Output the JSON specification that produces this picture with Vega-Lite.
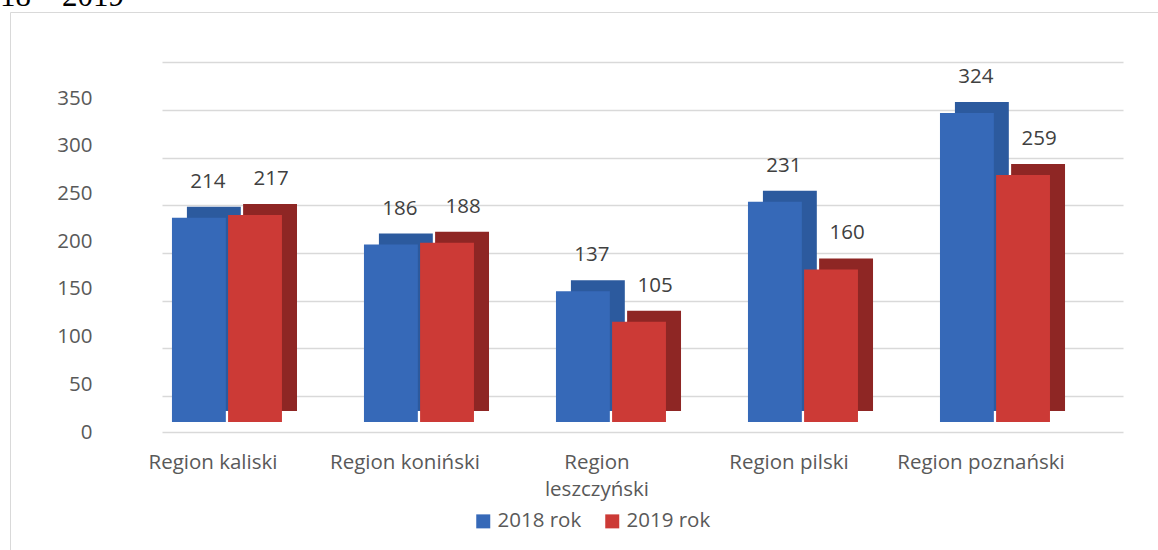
{
  "$schema": "https://vega.github.io/schema/vega-lite/v6.json",
  "autosize": {"type": "none"},
  "padding": {"left": 10, "top": 12, "right": 0, "bottom": 0},
  "width": 1150,
  "height": 545,
  "background": "white",
  "title": {"text": "18 – 2019", "anchor": "start", "frame": "group", "font": "Liberation Serif", "fontSize": 31, "fontWeight": "normal", "color": "#000000", "baseline": "alphabetic", "offset": -25, "dx": -10},
  "config": {"view": {"stroke": "#d9d9d9", "strokeWidth": 1}, "font": "Open Sans"},
  "data": {"values": [
    {"region": "Region kaliski", "year": "2018 rok", "value": 214},
    {"region": "Region kaliski", "year": "2019 rok", "value": 217},
    {"region": "Region koniński", "year": "2018 rok", "value": 186},
    {"region": "Region koniński", "year": "2019 rok", "value": 188},
    {"region": "Region leszczyński", "year": "2018 rok", "value": 137},
    {"region": "Region leszczyński", "year": "2019 rok", "value": 105},
    {"region": "Region pilski", "year": "2018 rok", "value": 231},
    {"region": "Region pilski", "year": "2019 rok", "value": 160},
    {"region": "Region poznański", "year": "2018 rok", "value": 324},
    {"region": "Region poznański", "year": "2019 rok", "value": 259}
  ]},
  "encoding": {
    "x": {"field": "region", "type": "nominal", "sort": null,
      "scale": {"range": [152, 1113], "paddingInner": 0.4271, "paddingOuter": 0.2161, "align": 0.12},
      "axis": {"title": null, "orient": "bottom", "offset": -125, "labelAngle": 0, "ticks": false, "tickSize": 0, "labelPadding": 20, "labelOffset": -14, "labelFont": "Open Sans", "labelFontSize": 20.5, "labelColor": "#595959", "domain": true, "domainColor": "#d9d9d9", "domainWidth": 1.3, "grid": false, "labelBaseline": "top", "labelLineHeight": 27, "labelLimit": 0,
        "labelExpr": "datum.value == 'Region leszczyński' ? ['Region', 'leszczyński'] : datum.value"}},
    "y": {"field": "value", "type": "quantitative",
      "scale": {"domain": [-141.5, 429.8], "nice": false},
      "axis": {"title": null, "orient": "left", "offset": -82, "ticks": false, "tickSize": 0, "labelPadding": 0, "domain": false, "grid": true, "gridColor": "#d9d9d9", "gridWidth": 1.3, "values": [0, 50, 100, 150, 200, 250, 300, 350], "tickOffset": -26, "labelOffset": 36, "labelFont": "Open Sans", "labelFontSize": 20.5, "labelColor": "#595959"}}
  },
  "layer": [
    {"transform": [{"filter": "datum.year == '2018 rok'"}],
     "mark": {"type": "bar", "color": "#2c5a9e", "width": 53.9, "xOffset": -13.1, "yOffset": -11, "y2Offset": -11}},
    {"transform": [{"filter": "datum.year == '2019 rok'"}],
     "mark": {"type": "bar", "color": "#8e2624", "width": 53.9, "xOffset": 43.1, "yOffset": -11, "y2Offset": -11}},
    {"mark": {"type": "bar"},
     "encoding": {
       "xOffset": {"field": "year", "type": "nominal", "scale": {"paddingInner": 0.04, "paddingOuter": 0}},
       "color": {"field": "year", "type": "nominal", "scale": {"range": ["#3669b8", "#cc3a36"]},
         "legend": {"title": null, "orient": "none", "legendX": 463, "legendY": 499, "direction": "horizontal", "symbolType": "square", "symbolSize": 196, "symbolStrokeWidth": 0, "symbolOpacity": 1, "labelFontSize": 20.5, "labelColor": "#595959", "labelFont": "Open Sans", "labelOffset": 4, "columnPadding": 20, "padding": 0}}}},
    {"transform": [{"filter": "datum.year == '2018 rok'"}],
     "mark": {"type": "text", "font": "Open Sans", "fontSize": 20.5, "color": "#404040", "baseline": "middle", "dy": -36, "dx": 9},
     "encoding": {
       "xOffset": {"field": "year", "type": "nominal", "scale": {"paddingInner": 0.04, "paddingOuter": 0}},
       "text": {"field": "value", "type": "quantitative"}}},
    {"transform": [{"filter": "datum.year == '2019 rok'"}],
     "mark": {"type": "text", "font": "Open Sans", "fontSize": 20.5, "color": "#404040", "baseline": "middle", "dy": -36, "dx": 16},
     "encoding": {
       "xOffset": {"field": "year", "type": "nominal", "scale": {"paddingInner": 0.04, "paddingOuter": 0}},
       "text": {"field": "value", "type": "quantitative"}}}
  ]
}
